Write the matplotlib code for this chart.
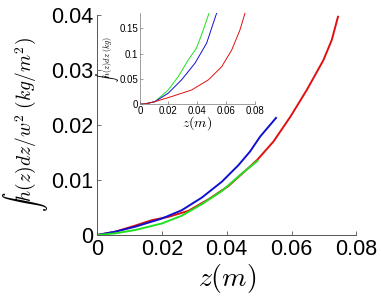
import matplotlib
matplotlib.use('Agg')
import matplotlib.pyplot as plt

plt.rcParams['mathtext.fontset'] = 'cm'
plt.rcParams['font.family'] = ['Liberation Sans', 'DejaVu Sans']

# main panel curves (z in m, integral / w^2 in kg/m^2)
z_red = [0, 0.0056, 0.0117, 0.0169, 0.022, 0.0282, 0.0344, 0.0405, 0.0467, 0.0493,
         0.0544, 0.0596, 0.0647, 0.0698, 0.0724, 0.0743]
v_red = [0, 0.0006, 0.0017, 0.0027, 0.0033, 0.0044, 0.0065, 0.0089, 0.0122, 0.0136,
         0.0170, 0.0215, 0.0264, 0.0318, 0.0355, 0.0397]
z_blue = [0, 0.0056, 0.0117, 0.020, 0.0261, 0.0323, 0.0385, 0.0436, 0.0472, 0.0503, 0.0552]
v_blue = [0, 0.0006, 0.0015, 0.0030, 0.0045, 0.0068, 0.0097, 0.0127, 0.0152, 0.0179, 0.0213]
z_green = [0, 0.0056, 0.0117, 0.020, 0.0261, 0.0323, 0.0385, 0.0447, 0.0495]
v_green = [0, 0.0003, 0.0009, 0.0021, 0.0035, 0.0056, 0.0080, 0.0112, 0.0135]

# inset curves (kg)
zi_green = [0, 0.0035, 0.0105, 0.0198, 0.0268, 0.0338, 0.0396, 0.0443, 0.0483]
vi_green = [0, 0.0005, 0.005, 0.028, 0.0545, 0.0875, 0.111, 0.147, 0.18]
zi_blue = [0, 0.0035, 0.0105, 0.0198, 0.0291, 0.0385, 0.0466, 0.0536]
vi_blue = [0, 0.0005, 0.005, 0.0217, 0.048, 0.081, 0.1205, 0.18]
zi_red = [0, 0.0035, 0.0105, 0.0221, 0.0361, 0.0478, 0.0571, 0.0641, 0.0699, 0.0734]
vi_red = [0, 0.0005, 0.005, 0.015, 0.028, 0.048, 0.074, 0.107, 0.147, 0.18]

xticks = [0, 0.02, 0.04, 0.06, 0.08]
xtick_labels = ['0', '0.02', '0.04', '0.06', '0.08']
yticks = [0, 0.01, 0.02, 0.03, 0.04]
ytick_labels = ['0', '0.01', '0.02', '0.03', '0.04']
yticks_in = [0, 0.05, 0.1, 0.15]
ytick_labels_in = ['0', '0.05', '0.1', '0.15']

fig = plt.figure(figsize=(3.81, 2.96), dpi=100)
ax = fig.add_axes([0.2546, 0.206, 0.681, 0.743])
ax.plot(z_red, v_red, color='#e01010', lw=1.4)
ax.plot(z_blue, v_blue, color='#1010d0', lw=1.4)
ax.plot(z_green, v_green, color='#20e020', lw=1.4)
ax.set_xlim(0, 0.08)
ax.set_ylim(0, 0.04)
ax.set_xticks(xticks, xtick_labels)
ax.set_yticks(yticks, ytick_labels)
ax.tick_params(direction='in', labelsize=15.5, length=3, width=0.6, color='#555555')
ax.tick_params(axis='x', pad=3)
ax.tick_params(axis='y', pad=2.5)
for s in ['top', 'right']:
    ax.spines[s].set_visible(False)
for s in ['left', 'bottom']:
    ax.spines[s].set_color('#555555')
    ax.spines[s].set_linewidth(0.7)
ax.set_xlabel(r'$z(m)$', fontsize=20, labelpad=1)
ax.set_ylabel(r'$\int h(z)dz/w^2\ (kg/m^2)$', fontsize=14, va='center')
ax.yaxis.set_label_coords(-0.275, 0.5)

axi = fig.add_axes([0.367, 0.648, 0.301, 0.308])
axi.plot(zi_green, vi_green, color='#20e020', lw=0.7)
axi.plot(zi_blue, vi_blue, color='#1010d0', lw=0.7)
axi.plot(zi_red, vi_red, color='#e01010', lw=0.7)
axi.set_xlim(0, 0.08)
axi.set_ylim(0, 0.18)
axi.set_xticks(xticks, xtick_labels)
axi.set_yticks(yticks_in, ytick_labels_in)
axi.tick_params(direction='in', labelsize=7, length=2, width=0.5, pad=1, color='#777777')
for s in ['top', 'right']:
    axi.spines[s].set_visible(False)
for s in ['left', 'bottom']:
    axi.spines[s].set_color('#777777')
    axi.spines[s].set_linewidth(0.5)
axi.set_xlabel(r'$z(m)$', fontsize=10, labelpad=-1)
axi.set_ylabel(r'$\int h(z)dz\ (kg)$', fontsize=6, labelpad=-1)

fig.savefig('out.png', dpi=100)
